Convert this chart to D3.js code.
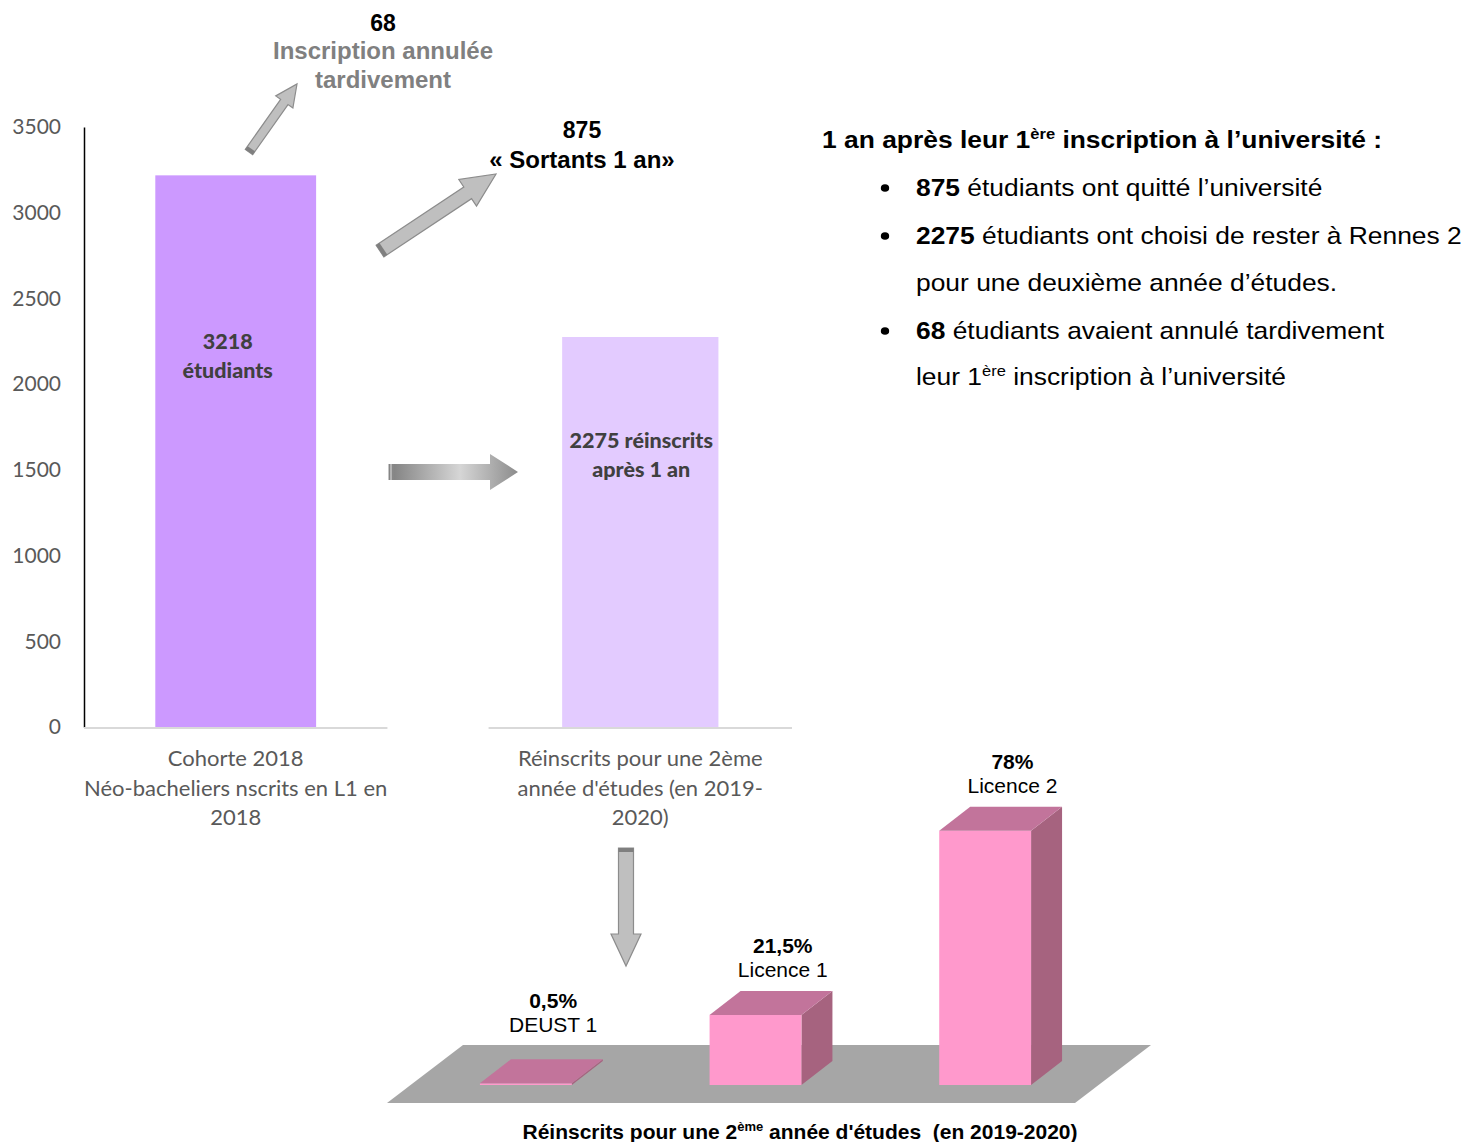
<!DOCTYPE html>
<html>
<head>
<meta charset="utf-8">
<script src="https://cdn.jsdelivr.net/npm/d3@7"></script>
<style>
  body { margin: 0; background: #fff; }
  svg { display: block; }
</style>
</head>
<body>
<div id="my_dataviz"></div>
<script>
// data
var categories = ["Cohorte 2018", "Réinscrits 2019-2020"];
var categoryLines = [
    ["Cohorte 2018", "Néo-bacheliers nscrits en L1 en", "2018"],
    ["Réinscrits pour une 2ème", "année d'études (en 2019-", "2020)"]
];
var counts = [3218, 2275];
var barLabels = [["3218", "étudiants"], ["2275 réinscrits", "après 1 an"]];
var yTicks = [0, 500, 1000, 1500, 2000, 2500, 3000, 3500];
var barColors = ["#CC99FF", "#E3CBFF"];

var cancelled = 68;
var leavers = 875;

var levels = ["DEUST 1", "Licence 1", "Licence 2"];
var shares = [0.5, 21.5, 78];
var shareLabels = ["0,5%", "21,5%", "78%"];

var W = 1467, H = 1142;
var svg = d3.select("#my_dataviz")
    .append("svg")
    .attr("width", W)
    .attr("height", H);

var defs = svg.append("defs");
var grad = defs.append("linearGradient").attr("id", "hgrad")
    .attr("x1", "0%").attr("x2", "100%").attr("y1", "0%").attr("y2", "0%");
grad.append("stop").attr("offset", "0%").attr("stop-color", "#7f7f7f");
grad.append("stop").attr("offset", "55%").attr("stop-color", "#d6d6d6");
grad.append("stop").attr("offset", "100%").attr("stop-color", "#8c8c8c");

// ---------- main bar chart ----------
var y = d3.scaleLinear().domain([0, 3500]).range([727, 127]);
var x = d3.scaleBand().domain(categories).range([84, 792]).paddingInner(0.25);

var labelFont = "Lato, 'Open Sans', sans-serif";

svg.append("g")
    .attr("transform", "translate(84,0)")
    .call(d3.axisLeft(y).tickValues(yTicks).tickSize(0).tickPadding(23).tickFormat(d3.format("d")))
    .call(function(g) {
        g.select(".domain").attr("stroke", "#000").attr("stroke-width", 1.5);
        g.selectAll("text").attr("fill", "#595959").style("font-size", "21px").style("font-family", labelFont);
    });

// baseline segments
svg.selectAll(".baseline")
    .data(categories)
    .enter().append("line")
    .attr("x1", function(d) { return x(d); })
    .attr("x2", function(d) { return x(d) + x.bandwidth(); })
    .attr("y1", y(0) + 1).attr("y2", y(0) + 1)
    .attr("stroke", "#d9d9d9").attr("stroke-width", 2);

var barWidths = [x.bandwidth() * 0.53, x.bandwidth() * 0.515];
svg.selectAll(".bar")
    .data(counts)
    .enter().append("rect")
    .attr("x", function(d, i) { return x(categories[i]) + x.bandwidth() / 2 - barWidths[i] / 2; })
    .attr("y", function(d) { return y(d); })
    .attr("width", function(d, i) { return barWidths[i]; })
    .attr("height", function(d) { return y(0) - y(d); })
    .attr("fill", function(d, i) { return barColors[i]; });

// labels inside bars
var inLabelY = [349, 448];
barLabels.forEach(function(lines, i) {
    var cx = x(categories[i]) + x.bandwidth() / 2 + (i === 0 ? -8 : 1);
    var t = svg.append("text")
        .attr("text-anchor", "middle")
        .attr("fill", "#404040")
        .style("font-family", labelFont)
        .style("font-weight", "900")
        .style("font-size", "21.5px");
    lines.forEach(function(l, j) {
        t.append("tspan").attr("x", cx).attr("y", inLabelY[i] + j * 29).text(l);
    });
});

// category labels
categoryLines.forEach(function(lines, i) {
    var cx = x(categories[i]) + x.bandwidth() / 2;
    var t = svg.append("text")
        .attr("text-anchor", "middle")
        .attr("fill", "#595959")
        .style("font-family", labelFont)
        .style("font-size", "22px");
    lines.forEach(function(l, j) {
        t.append("tspan").attr("x", cx).attr("y", 766 + j * 29.5).text(l);
    });
});

// ---------- block arrows ----------
function blockArrow(x0, y0, x1, y1, shaft, head, headLen) {
    var a = Math.atan2(y1 - y0, x1 - x0);
    var L = Math.hypot(x1 - x0, y1 - y0);
    var g = svg.append("g")
        .attr("transform", "translate(" + x0 + "," + y0 + ") rotate(" + (a * 180 / Math.PI) + ")");
    var s = shaft / 2, h = head / 2, b = L - headLen;
    g.append("path")
        .attr("d", "M0," + (-s) + "L" + b + "," + (-s) + "L" + b + "," + (-h) + "L" + L + ",0L" + b + "," + h + "L" + b + "," + s + "L0," + s + "Z")
        .attr("fill", "#bfbfbf").attr("stroke", "#8c8c8c").attr("stroke-width", 1.2);
    g.append("rect").attr("x", 0).attr("y", -s).attr("width", 4).attr("height", shaft).attr("fill", "#7f7f7f");
}
blockArrow(249, 152, 297, 84, 9, 21, 22);
blockArrow(380, 251, 496, 174, 14, 32, 34);
blockArrow(626, 848, 626, 966, 15, 30, 32);

// horizontal gradient arrow
svg.append("path")
    .attr("d", "M389,464L490,464L490,454L518,472L490,490L490,480L389,480Z")
    .attr("fill", "url(#hgrad)");
[389, 391, 393].forEach(function(xx, i) {
    svg.append("line").attr("x1", xx).attr("x2", xx).attr("y1", 464).attr("y2", 480)
        .attr("stroke", i === 1 ? "#e6e6e6" : "#8a8a8a").attr("stroke-width", 1);
});

// annotations
var annFont = "'Liberation Sans', Arial, sans-serif";
svg.append("text").attr("x", 383).attr("y", 31).attr("text-anchor", "middle")
    .style("font-family", annFont).style("font-weight", "bold").style("font-size", "23px")
    .attr("fill", "#000").text(cancelled);
var t68 = svg.append("text").attr("text-anchor", "middle")
    .style("font-family", annFont).style("font-weight", "bold").style("font-size", "24px")
    .attr("fill", "#808080");
t68.append("tspan").attr("x", 383).attr("y", 59).text("Inscription annulée");
t68.append("tspan").attr("x", 383).attr("y", 88).text("tardivement");

svg.append("text").attr("x", 582).attr("y", 138).attr("text-anchor", "middle")
    .style("font-family", annFont).style("font-weight", "bold").style("font-size", "23px")
    .attr("fill", "#000").text(leavers);
svg.append("text").attr("x", 582).attr("y", 168).attr("text-anchor", "middle")
    .style("font-family", annFont).style("font-weight", "bold").style("font-size", "24px")
    .attr("fill", "#000").text("« Sortants 1 an»");

// ---------- right text block (slightly wide glyphs, like the source) ----------
var sx = 1.1;
var txt = svg.append("g")
    .attr("transform", "translate(822,0) scale(" + sx + ",1)")
    .style("font-family", annFont).style("font-size", "24px").attr("fill", "#000");
var title = txt.append("text").attr("x", 0).attr("y", 148).style("font-weight", "bold");
title.append("tspan").text("1 an après leur 1");
title.append("tspan").attr("dy", -9).style("font-size", "15px").text("ère");
title.append("tspan").attr("dy", 9).text(" inscription à l’université :");

var tx = (916 - 822) / sx, bx = (885 - 822) / sx;
var bulletRows = [
    { y: 196, bold: String(leavers), rest: " étudiants ont quitté l’université", dot: true },
    { y: 244, bold: String(counts[1]), rest: " étudiants ont choisi de rester à Rennes 2", dot: true },
    { y: 291, bold: "", rest: "pour une deuxième année d’études.", dot: false },
    { y: 339, bold: String(cancelled), rest: " étudiants avaient annulé tardivement", dot: true }
];
bulletRows.forEach(function(r) {
    if (r.dot) txt.append("circle").attr("cx", bx).attr("cy", r.y - 8).attr("r", 3.8).attr("fill", "#000");
    var t = txt.append("text").attr("x", tx).attr("y", r.y);
    if (r.bold) t.append("tspan").style("font-weight", "bold").text(r.bold);
    t.append("tspan").text(r.rest);
});
var last = txt.append("text").attr("x", tx).attr("y", 385);
last.append("tspan").text("leur 1");
last.append("tspan").attr("dy", -9).style("font-size", "15px").text("ère");
last.append("tspan").attr("dy", 9).text(" inscription à l’université");

// ---------- 3D bar chart ----------
var x3 = d3.scaleBand().domain(levels).range([434, 1077]).paddingInner(0.6).paddingOuter(0.2);
var h3 = d3.scaleLinear().domain([0, 100]).range([0, 326]);
var base3 = 1085, dx = 31, dy = -24;

svg.append("path")
    .attr("d", "M387,1103L463,1045L1151,1045L1075,1103Z")
    .attr("fill", "#a6a6a6");

var bars3 = svg.selectAll(".bar3")
    .data(shares)
    .enter().append("g");
bars3.each(function(d, i) {
    var g = d3.select(this);
    var x0 = x3(levels[i]), bw = x3.bandwidth(), top = base3 - h3(d);
    // side
    g.append("path")
        .attr("d", "M" + (x0 + bw) + "," + top + "L" + (x0 + bw + dx) + "," + (top + dy) +
            "L" + (x0 + bw + dx) + "," + (base3 + dy) + "L" + (x0 + bw) + "," + base3 + "Z")
        .attr("fill", "#a6637f");
    // front
    g.append("rect").attr("x", x0).attr("y", top).attr("width", bw).attr("height", base3 - top)
        .attr("fill", "#ff99cc");
    // top
    g.append("path")
        .attr("d", "M" + x0 + "," + top + "L" + (x0 + bw) + "," + top + "L" + (x0 + bw + dx) + "," + (top + dy) +
            "L" + (x0 + dx) + "," + (top + dy) + "Z")
        .attr("fill", "#c2749b");
    var lx = x0 + bw / 2 + dx * 0.88, ly = Math.min(top + dy - 38, 1008);
    g.append("text").attr("x", lx).attr("y", ly).attr("text-anchor", "middle")
        .style("font-family", annFont).style("font-weight", "bold").style("font-size", "21px")
        .attr("fill", "#000").text(shareLabels[i]);
    g.append("text").attr("x", lx).attr("y", ly + 24).attr("text-anchor", "middle")
        .style("font-family", annFont).style("font-size", "21px")
        .attr("fill", "#000").text(levels[i]);
});

var bt = svg.append("text").attr("x", 800).attr("y", 1139).attr("text-anchor", "middle")
    .style("font-family", annFont).style("font-weight", "bold").style("font-size", "21px")
    .attr("fill", "#000");
bt.append("tspan").text("Réinscrits pour une 2");
bt.append("tspan").attr("dy", -8).style("font-size", "13px").text("ème");
bt.append("tspan").attr("dy", 8).text(" année d'études\u00a0 (en 2019-2020)");
</script>
</body>
</html>
